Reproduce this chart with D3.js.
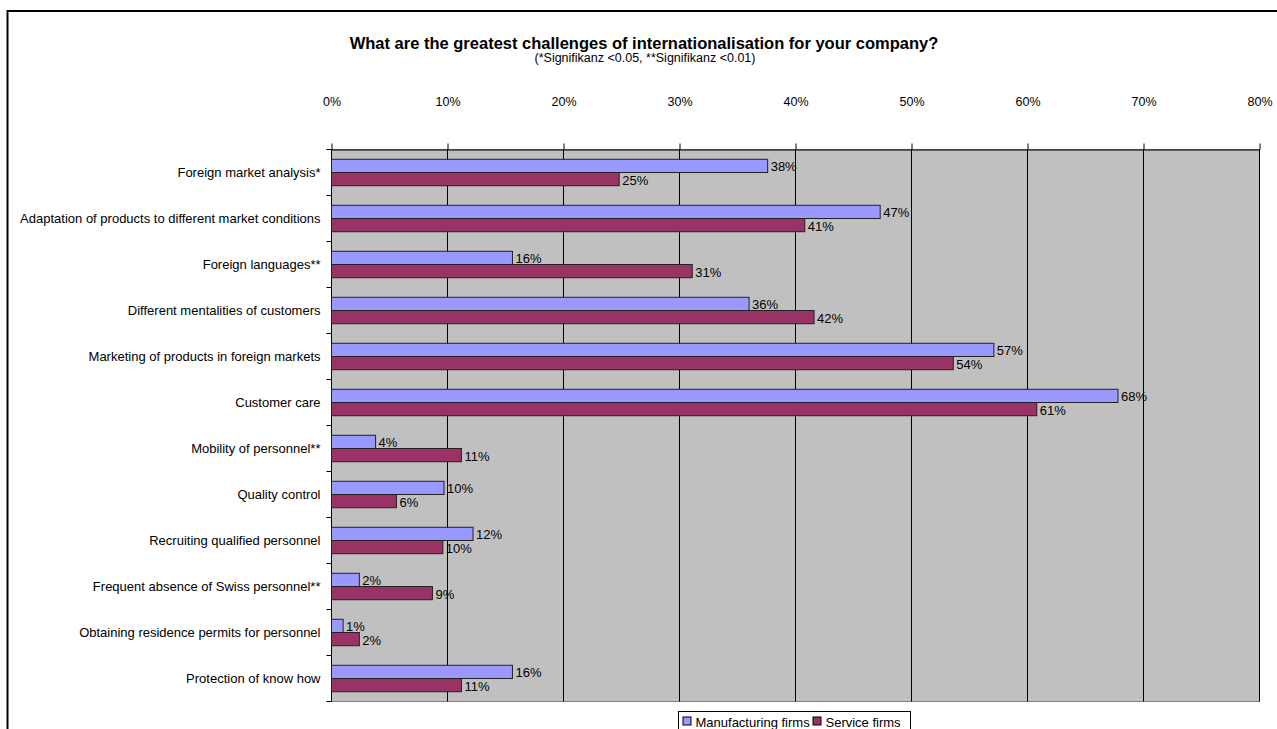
<!DOCTYPE html>
<html>
<head>
<meta charset="utf-8">
<script src="https://cdn.jsdelivr.net/npm/d3@7"></script>
<style>
  html, body { margin: 0; padding: 0; background: #fff; }
  svg { display: block; font-family: "Liberation Sans", Arial, Helvetica, sans-serif; }
</style>
</head>
<body>
<svg id="chart" width="1277" height="729"></svg>
<script>
// Survey answers: share of firms naming each challenge (percent)
const categories = [
  "Foreign market analysis*",
  "Adaptation of products to different market conditions",
  "Foreign languages**",
  "Different mentalities of customers",
  "Marketing of products in foreign markets",
  "Customer care",
  "Mobility of personnel**",
  "Quality control",
  "Recruiting qualified personnel",
  "Frequent absence of Swiss personnel**",
  "Obtaining residence permits for personnel",
  "Protection of know how"
];
const seriesNames = ["Manufacturing firms", "Service firms"];
const manufacturing = [37.6, 47.3, 15.6, 36.0, 57.1, 67.8, 3.8, 9.7, 12.2, 2.4, 1.0, 15.6];
const service       = [24.8, 40.8, 31.1, 41.6, 53.6, 60.8, 11.2, 5.6, 9.6, 8.7, 2.4, 11.2];
const xTicks = [0, 10, 20, 30, 40, 50, 60, 70, 80];
const seriesColors = ["#9999FF", "#993366"];

const titleText = "What are the greatest challenges of internationalisation for your company?";
const subtitleText = "(*Signifikanz <0.05, **Signifikanz <0.01)";

const svg = d3.select("#chart");

// outer frame of the chart object
svg.append("rect")
  .attr("x", 7.5).attr("y", 11)
  .attr("width", 1320).attr("height", 800)
  .attr("fill", "#fff").attr("stroke", "#000").attr("stroke-width", 2);

const plot = { left: 331.5, right: 1259.5, top: 149.5, bottom: 701.5 };

const x = d3.scaleLinear().domain([0, 80]).range([plot.left, plot.right]);
const y = d3.scaleBand().domain(categories).range([plot.top, plot.bottom]).paddingInner(0).paddingOuter(0);
const ySub = d3.scaleBand().domain(seriesNames).range([0, y.bandwidth()]).paddingInner(0).paddingOuter(0.74);

// titles
svg.append("text")
  .attr("x", 644).attr("y", 48.5)
  .attr("text-anchor", "middle")
  .attr("font-weight", "bold").attr("font-size", 16.5)
  .text(titleText);
svg.append("text")
  .attr("x", 645).attr("y", 61.5)
  .attr("text-anchor", "middle")
  .attr("font-size", 12.5)
  .text(subtitleText);

// plot background
svg.append("rect")
  .attr("x", plot.left).attr("y", plot.top)
  .attr("width", plot.right - plot.left).attr("height", plot.bottom - plot.top)
  .attr("fill", "#C0C0C0").attr("stroke", "#808080").attr("stroke-width", 1);

// vertical gridlines
svg.append("g")
  .selectAll("line")
  .data(xTicks.slice(1))
  .join("line")
  .attr("x1", d => Math.round(x(d)) - 0.5).attr("x2", d => Math.round(x(d)) - 0.5)
  .attr("y1", plot.top).attr("y2", plot.bottom)
  .attr("stroke", "#000").attr("stroke-width", 1);

// top value axis
const xAxis = d3.axisTop(x)
  .tickValues(xTicks)
  .tickFormat(d => d + "%")
  .tickSizeInner(6).tickSizeOuter(0).tickPadding(38);
const gx = svg.append("g").attr("transform", `translate(0,${plot.top})`).call(xAxis);
gx.select(".domain").attr("stroke", "#000");
gx.selectAll(".tick line").attr("stroke", "#000");
gx.selectAll(".tick text").attr("font-size", 12.5).attr("fill", "#000")
  .attr("font-family", "Liberation Sans, Arial, sans-serif");

// left category axis: ticks at band boundaries
const gy = svg.append("g");
gy.append("line")
  .attr("x1", plot.left).attr("x2", plot.left)
  .attr("y1", plot.top).attr("y2", plot.bottom)
  .attr("stroke", "#000");
const boundaries = categories.map(c => y(c)).concat([plot.bottom]);
gy.selectAll("line.tk")
  .data(boundaries)
  .join("line").attr("class", "tk")
  .attr("x1", plot.left - 5).attr("x2", plot.left)
  .attr("y1", d => d).attr("y2", d => d)
  .attr("stroke", "#000");
gy.selectAll("text")
  .data(categories)
  .join("text")
  .attr("x", plot.left - 11)
  .attr("y", d => y(d) + y.bandwidth() / 2)
  .attr("dy", "0.35em")
  .attr("text-anchor", "end")
  .attr("font-size", 13)
  .attr("fill", "#000")
  .text(d => d);

// bars
const rows = categories.map((c, i) => ({
  cat: c,
  vals: [
    { s: seriesNames[0], v: manufacturing[i], color: seriesColors[0] },
    { s: seriesNames[1], v: service[i], color: seriesColors[1] }
  ]
}));

const groups = svg.append("g").selectAll("g")
  .data(rows)
  .join("g")
  .attr("transform", d => `translate(0,${y(d.cat)})`);

groups.selectAll("rect")
  .data(d => d.vals)
  .join("rect")
  .attr("x", x(0))
  .attr("y", d => ySub(d.s))
  .attr("width", d => x(d.v) - x(0))
  .attr("height", ySub.bandwidth())
  .attr("fill", d => d.color)
  .attr("stroke", "#222").attr("stroke-width", 1);

groups.selectAll("text")
  .data(d => d.vals)
  .join("text")
  .attr("x", d => x(d.v) + 3)
  .attr("y", d => ySub(d.s) + ySub.bandwidth() / 2 + 1)
  .attr("dy", "0.35em")
  .attr("font-size", 13)
  .attr("fill", "#000")
  .text(d => Math.round(d.v) + "%");

// legend
const legend = svg.append("g").attr("transform", "translate(678.5,711.5)");
legend.append("rect")
  .attr("width", 232).attr("height", 30)
  .attr("fill", "#fff").attr("stroke", "#000");
const items = [
  { name: seriesNames[0], color: seriesColors[0], x: 4.5 },
  { name: seriesNames[1], color: seriesColors[1], x: 134.5 }
];
legend.selectAll("g")
  .data(items)
  .join("g")
  .attr("transform", d => `translate(${d.x},0)`)
  .each(function(d) {
    const g = d3.select(this);
    g.append("rect").attr("x", 0).attr("y", 5.5).attr("width", 8).attr("height", 8)
      .attr("fill", d.color).attr("stroke", "#000");
    g.append("text").attr("x", 12.5).attr("y", 15)
      .attr("font-size", 13).attr("fill", "#000").text(d.name);
  });
</script>
</body>
</html>
